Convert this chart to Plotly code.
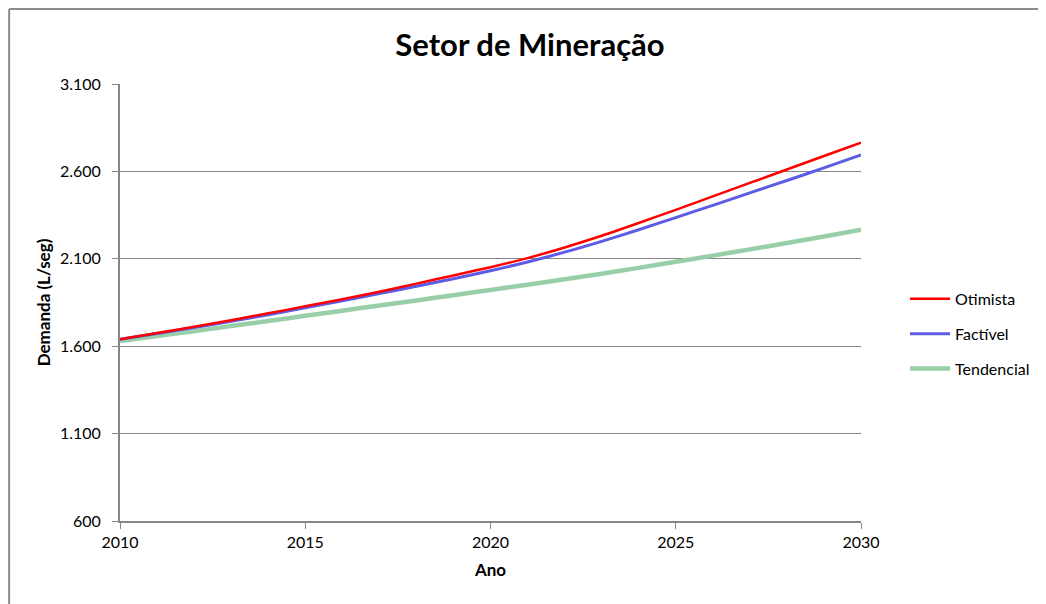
import plotly.graph_objects as go

# ano x demanda (L/seg)
anos = list(range(2010, 2031))
otimista = [1640, 1675, 1711, 1749, 1788, 1828, 1869, 1912, 1958, 2005, 2052,
            2104, 2165, 2232, 2305, 2380, 2457, 2534, 2611, 2688, 2764]
factivel = [1640, 1673, 1707, 1742, 1780, 1820, 1860, 1901, 1943, 1986, 2032,
            2082, 2138, 2200, 2266, 2336, 2406, 2477, 2548, 2620, 2695]
tendencial = [1630, 1658, 1686, 1715, 1744, 1774, 1803, 1833, 1862, 1892, 1922,
              1952, 1983, 2015, 2048, 2083, 2118, 2154, 2190, 2228, 2266]

y_ticks = [600, 1100, 1600, 2100, 2600, 3100]
y_labels = ["600", "1.100", "1.600", "2.100", "2.600", "3.100"]
x_ticks = [2010, 2015, 2020, 2025, 2030]

FONT = "Lato"
GRAY = "#868686"

fig = go.Figure()

# ordem de desenho: verde embaixo, vermelho por cima
fig.add_trace(go.Scatter(x=anos, y=tendencial, name="Tendencial", mode="lines",
                         legendgroup="t", legendrank=3,
                         line=dict(color="#98CFA8", width=4.5,
                                   shape="spline", smoothing=0.8)))
fig.add_trace(go.Scatter(x=anos, y=factivel, name="Factível", mode="lines",
                         legendgroup="f", legendrank=2,
                         line=dict(color="#5C5CE6", width=3,
                                   shape="spline", smoothing=0.8)))
fig.add_trace(go.Scatter(x=anos, y=otimista, name="Otimista", mode="lines",
                         legendgroup="o", legendrank=1,
                         line=dict(color="#FF0000", width=2.5,
                                   shape="spline", smoothing=0.8)))

# página tem margem de 8px no body, então a figura fica deslocada
fig.update_layout(
    width=1038, height=596,
    margin=dict(l=112, r=184, t=76, b=83),
    paper_bgcolor="white", plot_bgcolor="white",
    font=dict(family=FONT, size=16, color="#000000"),
    title=dict(text="<b>Setor de Mineração</b>", x=522 / 1038, xanchor="center",
               y=1 - 37 / 596, yanchor="middle",
               font=dict(size=31, family=FONT)),
    xaxis=dict(
        range=[2010, 2030], tickvals=x_ticks, showgrid=False,
        showline=True, linecolor=GRAY, linewidth=2,
        ticks="outside", ticklen=6, tickcolor=GRAY, tickwidth=1,
        title=dict(text="<b>Ano</b>", font=dict(size=17), standoff=14),
        zeroline=False,
    ),
    yaxis=dict(
        range=[600, 3100], tickvals=y_ticks, ticktext=y_labels,
        showgrid=True, gridcolor=GRAY, gridwidth=1,
        showline=True, linecolor=GRAY, linewidth=2,
        ticks="outside", ticklen=6, tickcolor=GRAY, tickwidth=1,
        ticklabelstandoff=8,
        title=dict(text="<b>Demanda (L/seg)</b>", font=dict(size=17), standoff=5),
        zeroline=False,
    ),
    legend=dict(
        x=1.058, y=0.428, xanchor="left", yanchor="middle",
        traceorder="grouped", font=dict(size=16),
        itemwidth=40, tracegroupgap=11,
    ),
    showlegend=True,
)

# moldura da área do gráfico (borda superior e esquerda)
fig.add_shape(type="line", xref="paper", yref="paper",
              x0=-0.1496, x1=-0.1496, y0=-0.25, y1=1.1716,
              line=dict(color="#8C8C8C", width=2))
fig.add_shape(type="line", xref="paper", yref="paper",
              x0=-0.1496, x1=1.4, y0=1.1716, y1=1.1716,
              line=dict(color="#8C8C8C", width=2))

fig.write_html("out.html")
